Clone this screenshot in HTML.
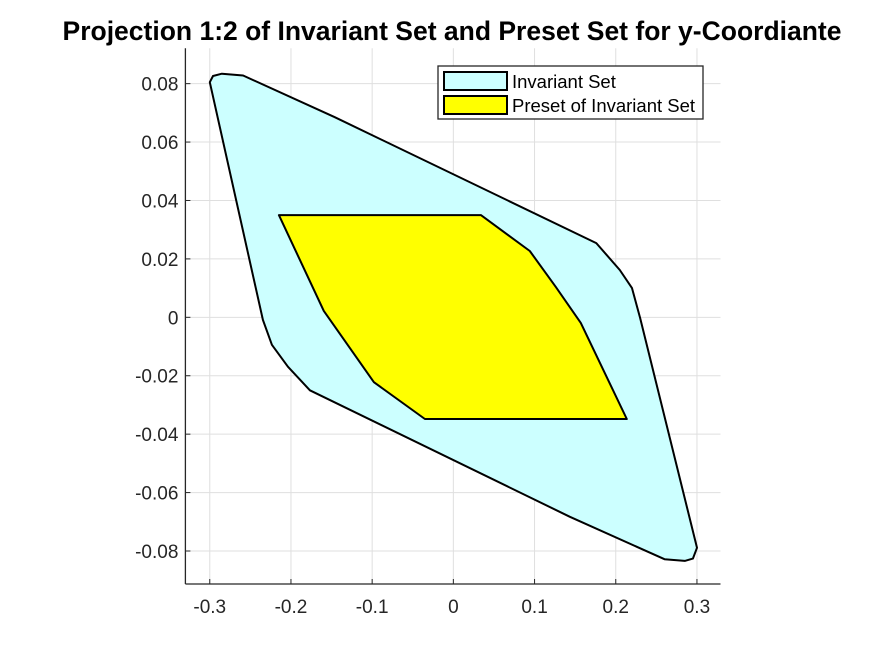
<!DOCTYPE html>
<html><head><meta charset="utf-8"><style>
body{margin:0;background:#fff;}
svg text{font-family:"Liberation Sans",Arial,sans-serif;}
</style></head><body>
<svg id="chart" width="875" height="656">
<text x="452" y="40" text-anchor="middle" font-size="26.5" font-weight="bold" fill="#000">Projection 1:2 of Invariant Set and Preset Set for y-Coordiante</text>
<g id="grid"></g>
<g id="series"></g>
<g id="axes"></g>
<g>
<rect x="438" y="66" width="265" height="53" fill="#fff" stroke="#262626" stroke-width="1.3"/>
<rect x="444" y="72" width="63" height="18" fill="#ccffff" stroke="#000" stroke-width="2"/>
<text x="512" y="88" font-size="18.5" fill="#000">Invariant Set</text>
<rect x="444" y="96" width="63" height="18" fill="#ffff00" stroke="#000" stroke-width="2"/>
<text x="512" y="112" font-size="18.5" fill="#000">Preset of Invariant Set</text>
</g>
</svg>
<script>
const xTicks=[-0.3,-0.2,-0.1,0,0.1,0.2,0.3];
const xTickLabels=["-0.3","-0.2","-0.1","0","0.1","0.2","0.3"];
const yTicks=[-0.08,-0.06,-0.04,-0.02,0,0.02,0.04,0.06,0.08];
const yTickLabels=["-0.08","-0.06","-0.04","-0.02","0","0.02","0.04","0.06","0.08"];
const invariantX=[-0.300,-0.296,-0.285,-0.259,-0.146,0.176,0.205,0.220,0.230,0.300,0.295,0.285,0.260,0.1435,-0.1767,-0.2038,-0.2235,-0.2346];
const invariantY=[0.0805,0.0826,0.0834,0.0828,0.0685,0.0254,0.0162,0.0100,-0.0002,-0.0789,-0.0826,-0.0834,-0.0828,-0.0683,-0.0250,-0.0169,-0.0094,-0.0009];
const presetX=[-0.2149,0.0339,0.0942,0.1262,0.1570,0.2136,-0.0351,-0.0979,-0.1595];
const presetY=[0.0350,0.0350,0.0227,0.0104,-0.0019,-0.0348,-0.0348,-0.0222,0.0022];
const X0=185.4,X1=720.5,xMin=-0.33,xMax=0.329;
const Y0=584,Y1=48.3,yMin=-0.0913,yMax=0.0921;
const sx=v=>X0+(v-xMin)/(xMax-xMin)*(X1-X0);
const sy=v=>Y0-(v-yMin)/(yMax-yMin)*(Y0-Y1);
const NS="http://www.w3.org/2000/svg";
function mk(t,a,p){const e=document.createElementNS(NS,t);for(const k in a)e.setAttribute(k,a[k]);p.appendChild(e);return e;}
const grid=document.getElementById('grid'),axes=document.getElementById('axes'),series=document.getElementById('series');
xTicks.forEach((v,i)=>{
 const g=mk('line',{x1:sx(v),x2:sx(v),y1:Y1,y2:Y0,stroke:'#dfdfdf','stroke-width':1},grid);
 
 
 const t=mk('line',{x1:sx(v),x2:sx(v),y1:Y0,y2:Y0-5,stroke:'#262626'},axes);
 
 
 const l=mk('text',{x:sx(v),y:Y0+29,'text-anchor':'middle','font-size':19,fill:'#262626'},axes);
 l.textContent=xTickLabels[i];
 
 
});
yTicks.forEach((v,i)=>{
 const g=mk('line',{x1:X0,x2:X1,y1:sy(v),y2:sy(v),stroke:'#dfdfdf','stroke-width':1},grid);
 
 
 const t=mk('line',{x1:X0,x2:X0+5,y1:sy(v),y2:sy(v),stroke:'#262626'},axes);
 
 
 const l=mk('text',{x:X0-7,y:sy(v)+7,'text-anchor':'end','font-size':19,fill:'#262626'},axes);
 l.textContent=yTickLabels[i];
 
 
});
const xa=mk('line',{x1:X0,x2:X1,y1:Y0,y2:Y0,stroke:'#262626','stroke-width':1.3},axes);


const ya=mk('line',{x1:X0,x2:X0,y1:Y1,y2:Y0,stroke:'#262626','stroke-width':1.3},axes);


const pts=(xs,ys)=>xs.map((x,i)=>sx(x).toFixed(1)+','+sy(ys[i]).toFixed(1)).join(' ');
const p1=mk('polygon',{points:pts(invariantX,invariantY),fill:'#ccffff',stroke:'#000','stroke-width':2,'stroke-linejoin':'round'},series);


const p2=mk('polygon',{points:pts(presetX,presetY),fill:'#ffff00',stroke:'#000','stroke-width':2,'stroke-linejoin':'round'},series);


</script>
</body></html>
